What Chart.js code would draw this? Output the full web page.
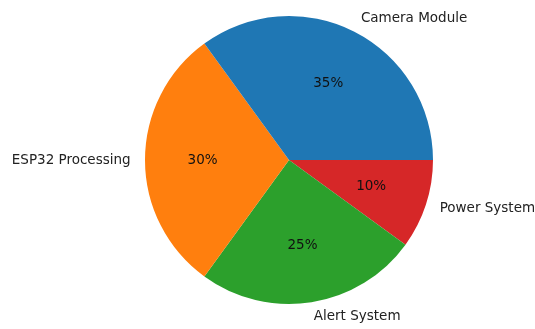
<!DOCTYPE html>
<html>
<head>
<meta charset="utf-8">
<script src="https://cdn.jsdelivr.net/npm/chart.js@4"></script>
<style>
  html, body { margin: 0; padding: 0; background: #fff; }
  #wrap { width: 535px; height: 329px; position: relative; }
</style>
</head>
<body>
<div id="wrap"><canvas id="pie"></canvas></div>
<script>
// values, in matplotlib order (counter-clockwise from east)
const categories = ['Camera Module', 'ESP32 Processing', 'Alert System', 'Power System'];
const shares = [35, 30, 25, 10];
const sliceColors = ['#1f77b4', '#ff7f0e', '#2ca02c', '#d62728'];

// Chart.js draws clockwise, so feed it reversed to get the same layout
const rev = arr => arr.slice().reverse();

const FONT = '13.5px "DejaVu Sans", sans-serif';

// draws outer labels (1.1 r) and percentages (0.6 r) the way matplotlib does
const pieText = {
  id: 'pieText',
  afterDatasetsDraw(chart) {
    const ctx = chart.ctx;
    const meta = chart.getDatasetMeta(0);
    const data = chart.data.datasets[0].data;
    const total = data.reduce((a, b) => a + b, 0);
    ctx.save();
    ctx.font = FONT;
    ctx.textBaseline = 'middle';
    meta.data.forEach((arc, i) => {
      const p = arc.getProps(['x', 'y', 'startAngle', 'endAngle', 'outerRadius'], true);
      const mid = (p.startAngle + p.endAngle) / 2;
      const c = Math.cos(mid), s = Math.sin(mid);

      ctx.fillStyle = '#222';
      ctx.textAlign = c > 0 ? 'left' : 'right';
      ctx.fillText(chart.data.labels[i], p.x + c * p.outerRadius * 1.1, p.y + s * p.outerRadius * 1.1);

      ctx.fillStyle = '#111';
      ctx.textAlign = 'center';
      const pct = Math.round(data[i] / total * 100) + '%';
      ctx.fillText(pct, p.x + c * p.outerRadius * 0.6, p.y + s * p.outerRadius * 0.6);
    });
    ctx.restore();
  }
};

new Chart(document.getElementById('pie'), {
  type: 'pie',
  data: {
    labels: rev(categories),
    datasets: [{
      data: rev(shares),
      backgroundColor: rev(sliceColors),
      borderWidth: 0
    }]
  },
  options: {
    responsive: true,
    maintainAspectRatio: false,
    animation: false,
    rotation: 90,
    layout: { padding: { left: 145, right: 102, top: 16, bottom: 25 } },
    plugins: {
      legend: { display: false },
      tooltip: { enabled: false }
    }
  },
  plugins: [pieText]
});
</script>
</body>
</html>
